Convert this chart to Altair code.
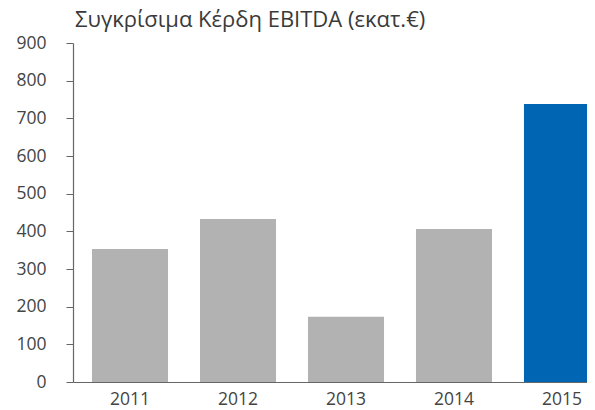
import altair as alt
import pandas as pd

years = ["2011", "2012", "2013", "2014", "2015"]
values = [353, 433, 173, 406, 738]
highlight = ["base", "base", "base", "base", "current"]

df = pd.DataFrame({"year": years, "value": values, "kind": highlight})

FONT = "Open Sans"

chart = alt.Chart(df).mark_bar(clip=False).encode(
    x=alt.X("year:N", sort=years, title=None,
            scale=alt.Scale(paddingInner=0.296, paddingOuter=0.176, range=[0, 546]),
            axis=alt.Axis(labelAngle=0, ticks=False, labelPadding=8,
                          labelFontSize=17.5, labelColor="#444444", labelFont=FONT,
                          domainColor="#666666", domainWidth=1.2)),
    y=alt.Y("value:Q", title=None,
            scale=alt.Scale(domain=[0, 900]),
            axis=alt.Axis(values=list(range(0, 901, 100)), grid=False,
                          tickSize=7, tickColor="#666666", labelPadding=20,
                          labelFontSize=17.5, labelColor="#444444", labelFont=FONT,
                          domainColor="#666666", domainWidth=1.2)),
    color=alt.Color("kind:N", legend=None,
                    scale=alt.Scale(domain=["base", "current"], range=["#b2b2b2", "#0066b3"])),
).properties(
    width=514,
    height=339,
    title=alt.TitleParams("Συγκρίσιμα Κέρδη EBITDA (εκατ.€)", anchor="start", frame="group",
                          fontSize=22, fontWeight="normal", font=FONT,
                          color="#3a3a3a", offset=2, dx=2),
    autosize=alt.AutoSizeParams(type="none"),
    padding={"left": 65, "top": 35, "right": 0, "bottom": 27},
).configure_view(stroke=None)

chart.save("out.html", embed_options={"renderer": "svg", "actions": False})
